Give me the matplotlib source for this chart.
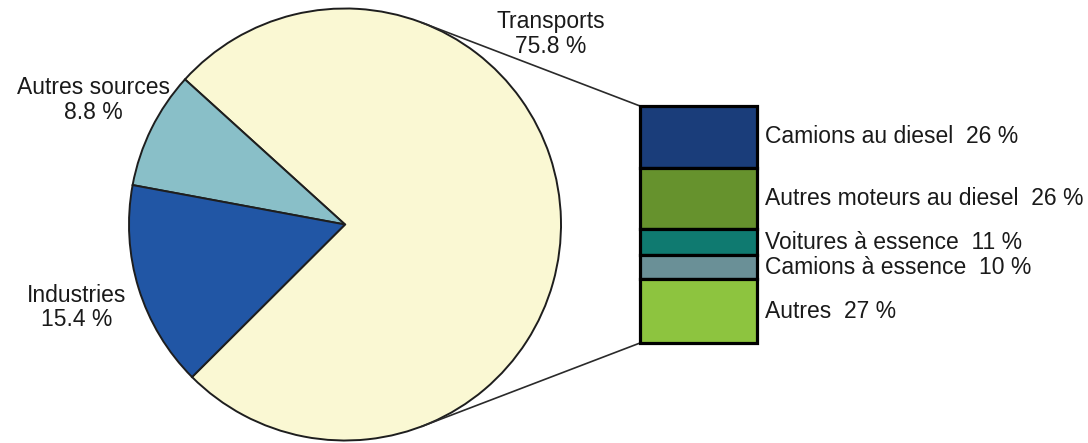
import numpy as np
import matplotlib
matplotlib.use("Agg")
import matplotlib.pyplot as plt
from matplotlib.patches import Rectangle

# Émissions par source
pie_labels = ["Transports", "Autres sources", "Industries"]
pie_values = [75.8, 8.8, 15.4]
pie_colors = ["#FAF8D3", "#89BFC8", "#2156A5"]

# Détail des transports
bar_labels = ["Camions au diesel", "Autres moteurs au diesel",
              "Voitures à essence", "Camions à essence", "Autres"]
bar_values = [26, 26, 11, 10, 27]
bar_colors = ["#1A3D7A", "#66922D", "#0F7A70", "#6A9097", "#8DC43F"]

plt.rcParams["font.family"] = ["Liberation Sans", "DejaVu Sans"]
FS = 16.5
TXT = "#1a1a1a"

W, H = 1088, 443
fig = plt.figure(figsize=(W / 100, H / 100), dpi=100)
ax = fig.add_axes([0, 0, 1, 1])
ax.set_xlim(0, W)
ax.set_ylim(0, H)
ax.set_aspect("equal")
ax.axis("off")

cx, cy, r = 345.0, 218.5, 216.0
start = 137.8 - 360 * pie_values[0] / 100  # Transports wedge ends at the upper left
wedges, _ = ax.pie(pie_values, colors=pie_colors, startangle=start,
                   counterclock=True, center=(cx, cy), radius=r,
                   wedgeprops=dict(edgecolor="#1e1e1e", linewidth=1.4))
ax.set_xlim(0, W)
ax.set_ylim(0, H)

# pie labels
label_angle = {"Transports": 42.8}
for w, lab, val in zip(wedges, pie_labels, pie_values):
    ang = label_angle.get(lab, (w.theta1 + w.theta2) / 2)
    dist = 1.3 * r
    x = cx + dist * np.cos(np.radians(ang))
    y = cy + dist * np.sin(np.radians(ang))
    ax.text(x, y, f"{lab}\n{val:.1f} %", ha="center", va="center",
            fontsize=FS, color=TXT, linespacing=1.1)

# stacked bar for transports
bx, bw = 640.0, 117.0
btop, bh = 337.0, 237.0
scale = bh / sum(bar_values)
top = btop
for lab, val, col in zip(bar_labels, bar_values, bar_colors):
    h = val * scale
    ax.add_patch(Rectangle((bx, top - h), bw, h, facecolor=col,
                           edgecolor="black", linewidth=2.3, zorder=3))
    ax.text(bx + bw + 8, top - h / 2, f"{lab}  {val} %", ha="left",
            va="center", fontsize=FS, color=TXT)
    top -= h

# connector lines tangent to the pie
def tangent_point(px, py, sign):
    dx, dy = px - cx, py - cy
    d = np.hypot(dx, dy)
    a = np.arctan2(dy, dx) + sign * np.arccos(r / d)
    return cx + r * np.cos(a), cy + r * np.sin(a)

for (px, py), s in [((bx, btop), 1), ((bx, btop - bh), -1)]:
    tx, ty = tangent_point(px, py, s)
    ax.plot([tx, px], [ty, py], color="#2a2a2a", linewidth=1.2, zorder=2)

fig.savefig("out.png", dpi=100)
